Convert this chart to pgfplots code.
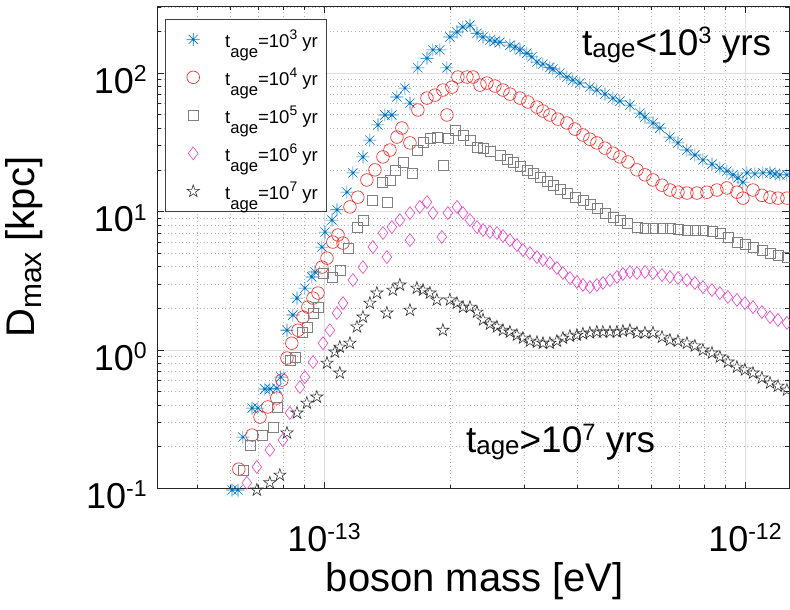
\documentclass[border=0pt]{standalone}
\usepackage{fontspec}
\setmainfont{Liberation Sans}
\usepackage{graphicx}
\usepackage{pgfplots}
\usepackage{pgfplotstable}
\pgfplotsset{compat=1.18}

\newcommand{\sps}[1]{\raisebox{0.32em}{\scalebox{0.64}{#1}}}
\newcommand{\asub}[1]{\raisebox{-0.06em}{\scalebox{0.7}{#1}}}
\newcommand{\ysub}[1]{\raisebox{-0.17em}{\scalebox{0.75}{#1}}}
\newcommand{\lsub}[1]{\raisebox{-0.58em}{\scalebox{0.9}{#1}}}
\newcommand{\lsup}[1]{\raisebox{0.4em}{\scalebox{0.75}{#1}}}

\definecolor{mblue}{rgb}{0,0.447,0.741}
\definecolor{mred}{rgb}{0.95,0.1,0.1}
\definecolor{mgray}{rgb}{0.5,0.5,0.5}
\definecolor{mmag}{rgb}{0.92,0.25,0.78}
\definecolor{mblack}{rgb}{0.2,0.2,0.2}

\pgfdeclareplotmark{mstar}{%
 \pgfpathmoveto{\pgfqpoint{0pt}{\pgfplotmarksize}}\pgfpathlineto{\pgfqpoint{0pt}{-\pgfplotmarksize}}%
 \pgfpathmoveto{\pgfqpoint{\pgfplotmarksize}{0pt}}\pgfpathlineto{\pgfqpoint{-\pgfplotmarksize}{0pt}}%
 \pgfpathmoveto{\pgfqpoint{0.707\pgfplotmarksize}{0.707\pgfplotmarksize}}\pgfpathlineto{\pgfqpoint{-0.707\pgfplotmarksize}{-0.707\pgfplotmarksize}}%
 \pgfpathmoveto{\pgfqpoint{-0.707\pgfplotmarksize}{0.707\pgfplotmarksize}}\pgfpathlineto{\pgfqpoint{0.707\pgfplotmarksize}{-0.707\pgfplotmarksize}}%
 \pgfusepathqstroke}
\pgfdeclareplotmark{pent}{%
 \pgfpathmoveto{\pgfpointpolar{90}{\pgfplotmarksize}}%
 \pgfpathlineto{\pgfpointpolar{126}{0.382\pgfplotmarksize}}%
 \pgfpathlineto{\pgfpointpolar{162}{\pgfplotmarksize}}%
 \pgfpathlineto{\pgfpointpolar{198}{0.382\pgfplotmarksize}}%
 \pgfpathlineto{\pgfpointpolar{234}{\pgfplotmarksize}}%
 \pgfpathlineto{\pgfpointpolar{270}{0.382\pgfplotmarksize}}%
 \pgfpathlineto{\pgfpointpolar{306}{\pgfplotmarksize}}%
 \pgfpathlineto{\pgfpointpolar{342}{0.382\pgfplotmarksize}}%
 \pgfpathlineto{\pgfpointpolar{18}{\pgfplotmarksize}}%
 \pgfpathlineto{\pgfpointpolar{54}{0.382\pgfplotmarksize}}%
 \pgfpathclose\pgfusepathqstroke}

\pgfplotstableread{
x y
0.605e-13 0.0975
0.625e-13 0.0975
0.642e-13 0.235
0.675e-13 0.381
0.697e-13 0.381
0.724e-13 0.523
0.744e-13 0.523
0.773e-13 0.530
0.790e-13 0.638
0.817e-13 1.39
0.844e-13 1.79
0.863e-13 2.37
0.901e-13 2.80
0.936e-13 3.37
0.952e-13 3.66
0.989e-13 5.54
1.006e-13 7.11
1.045e-13 8.68
1.074e-13 10.3
1.134e-13 13.8
1.172e-13 19.0
1.238e-13 24.8
1.286e-13 32.8
1.344e-13 42.2
1.396e-13 49.8
1.450e-13 49.8
1.491e-13 67.2
1.557e-13 77.9
1.601e-13 60.7
1.672e-13 109
1.757e-13 128
1.815e-13 147
1.886e-13 147
1.960e-13 109
1.992e-13 182
2.070e-13 198
2.139e-13 215
2.223e-13 222
2.310e-13 194
2.387e-13 182
2.479e-13 173
2.548e-13 170
2.618e-13 167
2.766e-13 159
2.842e-13 154
2.922e-13 147
3.035e-13 139
3.119e-13 131
3.206e-13 120
3.313e-13 116
3.442e-13 110
3.499e-13 107
3.636e-13 100
3.778e-13 93.6
3.904e-13 89.0
4.056e-13 84.7
4.283e-13 79.2
4.450e-13 75.4
4.651e-13 70.5
4.858e-13 66.0
5.048e-13 62.8
5.332e-13 58.7
5.63e-13 51.4
5.788e-13 48.1
6.048e-13 43.6
6.28e-13 40.1
6.635e-13 34.5
6.934e-13 31.3
7.282e-13 27.8
7.606e-13 25.6
7.948e-13 23.6
8.35e-13 22.0
8.721e-13 20.6
9.061e-13 19.6
9.365e-13 18.4
9.625e-13 17.5
9.890e-13 16.3
10.11e-13 19.0
10.56e-13 18.7
11.03e-13 19.0
11.47e-13 19.0
11.79e-13 18.7
12.11e-13 18.4
12.58e-13 18.4
}\tblue

\pgfplotstableread{
x y
0.628e-13 0.138
0.675e-13 0.243
0.705e-13 0.328
0.736e-13 0.388
0.773e-13 0.450
0.795e-13 0.607
0.817e-13 0.875
0.839e-13 1.12
0.868e-13 1.39
0.892e-13 1.73
0.916e-13 2.04
0.942e-13 2.37
0.968e-13 2.58
0.989e-13 3.97
1.017e-13 4.61
1.050e-13 6.02
1.080e-13 6.77
1.110e-13 5.92
1.153e-13 10.8
1.204e-13 12.7
1.265e-13 16.9
1.322e-13 20.0
1.381e-13 24.8
1.435e-13 27.8
1.491e-13 34.5
1.532e-13 40.1
1.601e-13 31.3
1.672e-13 54.1
1.757e-13 66.0
1.835e-13 69.3
1.917e-13 75.4
1.960e-13 49.8
2.014e-13 79.2
2.081e-13 93.6
2.186e-13 93.6
2.260e-13 93.6
2.348e-13 81.9
2.439e-13 84.7
2.548e-13 80.6
2.662e-13 75.4
2.766e-13 70.5
2.922e-13 66.0
3.052e-13 61.8
3.206e-13 56.8
3.313e-13 53.2
3.442e-13 49.8
3.595e-13 46.5
3.778e-13 43.6
3.947e-13 39.4
4.123e-13 35.7
4.283e-13 33.3
4.450e-13 31.3
4.651e-13 28.7
4.858e-13 26.4
5.048e-13 24.8
5.274e-13 22.8
5.540e-13 20.0
5.788e-13 18.4
6.048e-13 16.9
6.353e-13 15.5
6.635e-13 14.3
6.934e-13 13.8
7.282e-13 13.6
7.691e-13 13.6
8.124e-13 13.8
8.581e-13 14.3
9.061e-13 14.8
9.572e-13 13.8
9.890e-13 12.5
10.45e-13 14.3
10.97e-13 13.1
11.47e-13 12.7
11.98e-13 12.5
12.58e-13 12.5
}\tred

\pgfplotstableread{
x y
0.642e-13 0.136
0.667e-13 0.206
0.712e-13 0.243
0.757e-13 0.278
0.777e-13 0.388
0.830e-13 0.847
0.853e-13 0.890
0.887e-13 1.35
0.911e-13 1.47
0.942e-13 1.85
0.968e-13 2.04
0.995e-13 3.60
1.045e-13 3.37
1.091e-13 3.78
1.140e-13 5.45
1.198e-13 7.73
1.238e-13 8.68
1.300e-13 12.1
1.373e-13 16.3
1.411e-13 11.7
1.435e-13 16.9
1.474e-13 20.0
1.540e-13 22.8
1.618e-13 19.0
1.663e-13 27.8
1.719e-13 31.8
1.786e-13 34.0
1.855e-13 34.5
1.917e-13 21.7
1.970e-13 34.0
2.047e-13 38.8
2.139e-13 35.7
2.223e-13 32.8
2.310e-13 29.2
2.387e-13 28.7
2.479e-13 27.3
2.618e-13 25.6
2.721e-13 23.9
2.811e-13 22.8
2.922e-13 21.3
3.035e-13 20.0
3.137e-13 19.0
3.258e-13 17.8
3.386e-13 16.6
3.499e-13 15.5
3.636e-13 14.5
3.778e-13 13.6
3.947e-13 12.7
4.123e-13 12.1
4.283e-13 11.3
4.450e-13 10.6
4.651e-13 9.75
4.858e-13 9.12
5.048e-13 8.68
5.245e-13 8.26
5.540e-13 7.73
5.788e-13 7.60
6.048e-13 7.60
6.353e-13 7.60
6.635e-13 7.60
6.934e-13 7.47
7.282e-13 7.35
7.606e-13 7.35
7.948e-13 7.35
8.35e-13 7.23
8.721e-13 7.00
9.11e-13 6.55
9.572e-13 6.02
10.0e-13 5.82
10.45e-13 5.54
10.97e-13 5.27
11.47e-13 5.01
11.98e-13 4.85
12.58e-13 4.69
}\tgray

\pgfplotstableread{
x y
0.656e-13 0.110
0.693e-13 0.143
0.744e-13 0.190
0.799e-13 0.224
0.830e-13 0.351
0.877e-13 0.540
0.901e-13 0.638
0.942e-13 0.819
0.995e-13 1.12
1.033e-13 1.39
1.074e-13 1.85
1.110e-13 2.18
1.172e-13 3.20
1.238e-13 3.97
1.307e-13 5.54
1.381e-13 7.00
1.411e-13 4.69
1.450e-13 7.73
1.515e-13 8.68
1.601e-13 9.75
1.601e-13 6.22
1.690e-13 10.8
1.757e-13 11.7
1.815e-13 9.75
1.906e-13 6.55
1.970e-13 9.75
2.070e-13 10.8
2.139e-13 9.75
2.223e-13 8.68
2.310e-13 7.73
2.387e-13 7.35
2.479e-13 7.11
2.576e-13 7.00
2.662e-13 6.66
2.766e-13 6.22
2.873e-13 5.73
2.970e-13 5.27
3.086e-13 5.01
3.206e-13 4.69
3.313e-13 4.47
3.442e-13 4.25
3.576e-13 3.91
3.696e-13 3.60
3.84e-13 3.31
3.990e-13 3.10
4.123e-13 2.95
4.283e-13 2.85
4.450e-13 2.95
4.599e-13 3.05
4.78e-13 3.20
4.966e-13 3.37
5.13e-13 3.54
5.332e-13 3.66
5.540e-13 3.60
5.788e-13 3.66
6.048e-13 3.60
6.353e-13 3.48
6.635e-13 3.37
6.934e-13 3.31
7.282e-13 3.20
7.606e-13 3.05
7.948e-13 2.85
8.35e-13 2.71
8.721e-13 2.58
9.11e-13 2.42
9.572e-13 2.30
10.0e-13 2.18
10.45e-13 2.04
10.97e-13 1.88
11.47e-13 1.73
11.98e-13 1.65
12.58e-13 1.57
}\tmag

\pgfplotstableread{
x y
0.693e-13 0.0975
0.744e-13 0.110
0.786e-13 0.125
0.817e-13 0.252
0.863e-13 0.351
0.911e-13 0.414
0.962e-13 0.458
1.017e-13 0.805
1.062e-13 0.968
1.091e-13 0.682
1.091e-13 1.05
1.153e-13 1.12
1.198e-13 1.47
1.238e-13 1.73
1.286e-13 2.18
1.336e-13 2.58
1.411e-13 1.85
1.458e-13 2.71
1.515e-13 2.95
1.601e-13 1.94
1.663e-13 2.80
1.719e-13 2.71
1.786e-13 2.58
1.855e-13 2.30
1.917e-13 1.39
1.992e-13 2.30
2.070e-13 2.18
2.139e-13 2.04
2.223e-13 2.04
2.310e-13 1.88
2.387e-13 1.65
2.479e-13 1.54
2.576e-13 1.47
2.662e-13 1.39
2.766e-13 1.35
2.873e-13 1.28
2.970e-13 1.22
3.086e-13 1.16
3.206e-13 1.14
3.313e-13 1.12
3.442e-13 1.12
3.576e-13 1.16
3.696e-13 1.22
3.84e-13 1.26
3.990e-13 1.28
4.123e-13 1.31
4.283e-13 1.33
4.450e-13 1.35
4.599e-13 1.35
4.78e-13 1.35
4.966e-13 1.35
5.13e-13 1.37
5.332e-13 1.39
5.540e-13 1.33
5.788e-13 1.33
6.048e-13 1.33
6.353e-13 1.24
6.635e-13 1.18
6.934e-13 1.16
7.282e-13 1.12
7.606e-13 1.07
7.948e-13 1.00
8.35e-13 0.951
8.721e-13 0.890
9.11e-13 0.819
9.572e-13 0.753
10.0e-13 0.718
10.45e-13 0.682
10.97e-13 0.628
11.47e-13 0.578
11.98e-13 0.549
12.58e-13 0.514
}\tblack

\begin{document}
\begin{tikzpicture}
\begin{axis}[
  scale only axis, width=632pt, height=482.5pt,
  xmode=log, ymode=log,
  xmin=4.012e-14, xmax=1.272e-12, ymin=0.1, ymax=305,
  xtick={1e-13,1e-12}, xticklabels={{10\sps{-13}},{10\sps{-12}}},
  ytick={0.1,1,10,100}, yticklabels={{10\sps{-1}},{10\sps{0}},{10\sps{1}},{10\sps{2}}},
  minor xtick={5e-14,6e-14,7e-14,8e-14,9e-14,2e-13,3e-13,4e-13,5e-13,6e-13,7e-13,8e-13,9e-13},
  minor ytick={0.2,0.3,0.4,0.5,0.6,0.7,0.8,0.9,2,3,4,5,6,7,8,9,20,30,40,50,60,70,80,90,200,300},
  grid=both,
  major grid style={black!13, line width=0.7pt},
  minor grid style={black!30, line width=0.7pt, dash pattern=on 1pt off 2.6pt},
  tick align=inside,
  major tick length=7pt, minor tick length=4pt,
  every tick/.style={black!85, line width=0.7pt},
  axis line style={black!85, line width=0.8pt},
  xticklabel style={font=\fontsize{36}{40}\selectfont, anchor=base, inner sep=0pt, yshift=-62.5pt},
  yticklabel style={font=\fontsize{36}{40}\selectfont, anchor=base east, inner sep=0pt, xshift=-10pt, yshift=-20pt},
  xlabel={boson mass [eV]}, ylabel={D\ysub{max} [kpc]},
  xlabel style={font=\fontsize{40}{44}\selectfont, at={(axis description cs:0.503,-0.2145)}, anchor=base, inner sep=0pt},
  ylabel style={font=\fontsize{40}{44}\selectfont, at={(axis description cs:-0.193,0.5)}, anchor=base, inner sep=0pt},
  clip=false,
  legend cell align=left,
  legend style={at={(axis description cs:0.01266,0.9730)}, anchor=north west,
    font=\fontsize{18.5}{21}\selectfont, draw=black!75, line width=0.6pt, fill=white,
    inner xsep=7pt, inner ysep=1pt,
    /tikz/every odd column/.append style={column sep=8pt}},
  legend image code/.code={\draw[#1,only marks] plot coordinates {(21pt,0pt)}; \path[draw=none,fill=none] (0pt,-19pt) (43pt,19pt);},
]
\addplot[only marks, mark=mstar, mark size=6.5pt, mblue, line width=0.6pt] table {\tblue};
\addlegendentry{t\lsub{age}=10\lsup{3} yr}
\addplot[only marks, mark=o, mark size=6.3pt, mred, line width=0.6pt] table {\tred};
\addlegendentry{t\lsub{age}=10\lsup{4} yr}
\addplot[only marks, mark=square, mark size=5pt, mgray, line width=0.6pt] table {\tgray};
\addlegendentry{t\lsub{age}=10\lsup{5} yr}
\addplot[only marks, mark=diamond, mark size=6.5pt, mmag, line width=0.6pt] table {\tmag};
\addlegendentry{t\lsub{age}=10\lsup{6} yr}
\addplot[only marks, mark=pent, mark size=6.5pt, mblack, line width=0.6pt] table {\tblack};
\addlegendentry{t\lsub{age}=10\lsup{7} yr}
\node[anchor=base west, inner sep=0pt, font=\fontsize{37}{40}\selectfont] at (axis cs:4.10e-13,134.9) {t\asub{age}<10\sps{3} yrs};
\node[anchor=base west, inner sep=0pt, font=\fontsize{37}{40}\selectfont] at (axis cs:2.174e-13,0.1834) {t\asub{age}>10\sps{7} yrs};
\end{axis}
\pgfresetboundingbox
\path (-157pt,-121.5pt) rectangle (633pt,488.5pt);
\end{tikzpicture}
\end{document}
